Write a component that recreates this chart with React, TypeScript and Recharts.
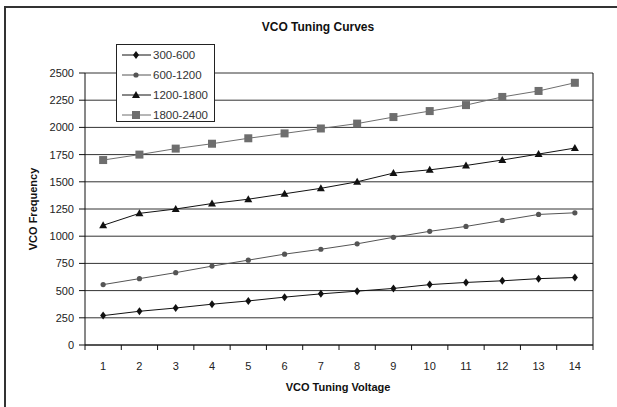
import React from 'react';
import { LineChart, Line, XAxis, YAxis, CartesianGrid, Legend, ReferenceLine } from 'recharts';

const voltages = [1, 2, 3, 4, 5, 6, 7, 8, 9, 10, 11, 12, 13, 14];
const band300to600 = [270, 310, 340, 375, 405, 440, 470, 495, 520, 555, 575, 590, 610, 620];
const band600to1200 = [555, 610, 665, 725, 780, 835, 880, 930, 990, 1045, 1090, 1145, 1200, 1215];
const band1200to1800 = [1100, 1210, 1250, 1300, 1340, 1390, 1440, 1500, 1580, 1610, 1650, 1700, 1755, 1810];
const band1800to2400 = [1700, 1750, 1805, 1850, 1900, 1945, 1990, 2035, 2095, 2150, 2205, 2280, 2335, 2410];
const freqTicks = [0, 250, 500, 750, 1000, 1250, 1500, 1750, 2000, 2250, 2500];
const bandEdges = [0.5, 1.5, 2.5, 3.5, 4.5, 5.5, 6.5, 7.5, 8.5, 9.5, 10.5, 11.5, 12.5, 13.5, 14.5];

const data = voltages.map((v, i) => ({
    v,
    a: band300to600[i],
    b: band600to1200[i],
    c: band1200to1800[i],
    d: band1800to2400[i],
}));

const FONT = '"Liberation Sans", Arial, sans-serif';

type Shape = 'diamond' | 'circle' | 'triangle' | 'square';

// one marker drawer, shared by the dots and the legend
const marker = (shape: Shape, cx: number, cy: number, fill: string) => {
    switch (shape) {
        case 'diamond':
            return <polygon points={`${cx},${cy - 4} ${cx + 3},${cy} ${cx},${cy + 4} ${cx - 3},${cy}`} fill={fill} />;
        case 'circle':
            return <circle cx={cx} cy={cy} r={2.6} fill={fill} />;
        case 'triangle':
            return <polygon points={`${cx},${cy - 4} ${cx + 4},${cy + 3} ${cx - 4},${cy + 3}`} fill={fill} />;
        default:
            return <rect x={cx - 4} y={cy - 4} width={8} height={8} fill={fill} />;
    }
};

const series: { key: string; name: string; color: string; shape: Shape }[] = [
    { key: 'a', name: '300-600', color: '#111', shape: 'diamond' },
    { key: 'b', name: '600-1200', color: '#555', shape: 'circle' },
    { key: 'c', name: '1200-1800', color: '#111', shape: 'triangle' },
    { key: 'd', name: '1800-2400', color: '#6e6e6e', shape: 'square' },
];

const dotFor = (shape: Shape, fill: string) => (props: any) => {
    const { cx, cy, index } = props;
    if (cx == null || cy == null) return <g key={index} />;
    return <g key={index}>{marker(shape, cx, cy, fill)}</g>;
};

const NoLabel = () => <g />;

const LegendBox = () => (
    <div style={{ width: 99, height: 78, background: '#fff', border: '1px solid #222', boxSizing: 'border-box' }}>
        <svg width={97} height={76}>
            {series.map((s, i) => {
                const y = 10 + i * 20;
                return (
                    <g key={s.key}>
                        <line x1={5} x2={34} y1={y} y2={y} stroke={s.color} strokeWidth={1} />
                        {marker(s.shape, 19, y, s.color)}
                        <text x={36} y={y + 4} fontSize={11.5} fontFamily={FONT} fill="#333">{s.name}</text>
                    </g>
                );
            })}
        </svg>
    </div>
);

const App: React.FC = () => {
    return (
        <div style={{ position: 'absolute', left: 0, top: 0, width: 617, height: 407, overflow: 'hidden', background: '#fff', fontFamily: FONT }}>
            <div style={{ position: 'absolute', left: 4, top: 6, width: 700, height: 500, borderLeft: '2px solid #333', borderTop: '2px solid #333' }} />
            <div style={{ position: 'absolute', left: 0, top: 20, width: 636, textAlign: 'center', fontSize: 12, fontWeight: 'bold', color: '#111' }}>
                VCO Tuning Curves
            </div>
            <div style={{ position: 'absolute', left: 0, top: 381, width: 676, textAlign: 'center', fontSize: 11, fontWeight: 'bold', color: '#111' }}>
                VCO Tuning Voltage
            </div>
            <div style={{ position: 'absolute', left: 33, top: 209, transform: 'translate(-50%, -50%) rotate(-90deg)', fontSize: 11, fontWeight: 'bold', color: '#111', whiteSpace: 'nowrap' }}>
                VCO Frequency
            </div>
            <div style={{ position: 'absolute', left: 0, top: 0 }}>
                <LineChart width={617} height={407} data={data} margin={{ top: 73, right: 24, left: 40, bottom: 22 }}>
                    <CartesianGrid vertical={false} stroke="#333" xAxisId="v" />
                    <XAxis
                        xAxisId="edges"
                        dataKey="v"
                        type="number"
                        domain={[0.5, 14.5]}
                        ticks={bandEdges}
                        tick={<NoLabel />}
                        tickLine={{ stroke: '#111' }}
                        tickSize={5}
                        height={1}
                        stroke="#111"
                        allowDataOverflow
                    />
                    <XAxis
                        xAxisId="v"
                        dataKey="v"
                        type="number"
                        domain={[0.5, 14.5]}
                        ticks={voltages}
                        tickLine={false}
                        axisLine={false}
                        tickSize={6}
                        tickMargin={10}
                        height={39}
                        tick={{ fontSize: 11, fill: '#222', fontFamily: FONT }}
                    />
                    <YAxis
                        domain={[0, 2500]}
                        ticks={freqTicks}
                        width={45}
                        tickSize={6}
                        tickMargin={5}
                        stroke="#111"
                        tick={{ fontSize: 11, fill: '#222', fontFamily: FONT }}
                    />
                    <ReferenceLine x={14.5} xAxisId="v" stroke="#111" />
                    {series.map((s) => (
                        <Line
                            key={s.key}
                            xAxisId="v"
                            dataKey={s.key}
                            name={s.name}
                            stroke={s.color}
                            strokeWidth={1}
                            dot={dotFor(s.shape, s.color)}
                            activeDot={false}
                            isAnimationActive={false}
                        />
                    ))}
                    <Legend
                        layout="vertical"
                        align="center"
                        verticalAlign="middle"
                        content={() => <LegendBox />}
                        wrapperStyle={{ position: 'absolute', left: 116, top: 44, width: 99, height: 78 }}
                    />
                </LineChart>
            </div>
        </div>
    );
};

export default App;
